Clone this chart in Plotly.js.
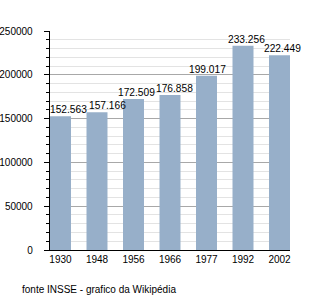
<!DOCTYPE html>
<html><head><meta charset="utf-8">
<script src="https://cdn.plot.ly/plotly-3.0.1.min.js"></script>
<style>body{margin:0;padding:0;background:#fff}#c{width:320px;height:300px}</style>
</head><body><div id="c"></div>
<script>
var years = ['1930','1948','1956','1966','1977','1992','2002'];
var population = [152563, 157166, 172509, 176858, 199017, 233256, 222449];
var valueLabels = ['152.563','157.166','172.509','176.858','199.017','233.256','222.449'];
var yTicks = [0, 50000, 100000, 150000, 200000, 250000];
var yTickLabels = ['0','50000','100000','150000','200000','250000'];
var caption = 'fonte INSSE - grafico da Wikipédia';

var idx = years.map(function(_, i){ return i; });
var font = {family: 'Liberation Sans, Arial, sans-serif', size: 10, color: '#000'};
// horizontal nudges of the value labels, in pixels (layout only)
var labelNudge = [8, 10, 3, 4.5, 1, 3, 2.5];

var labelAnns = idx.map(function(i){
  return {
    x: i, y: population[i], xref: 'x', yref: 'y',
    text: valueLabels[i], showarrow: false,
    xanchor: 'center', yanchor: 'bottom', yshift: 0, xshift: labelNudge[i],
    borderpad: 0,
    font: {family: font.family, size: 10.2, color: '#000'}
  };
});

Plotly.newPlot('c', [{
  type: 'bar',
  x: idx,
  y: population,
  marker: {color: '#97afc9', line: {width: 0}},
  hoverinfo: 'none'
}], {
  width: 320, height: 300,
  margin: {l: 50, r: 30, t: 31, b: 50},
  paper_bgcolor: '#fff', plot_bgcolor: '#fff',
  bargap: 0.425,
  showlegend: false,
  font: font,
  xaxis: {
    range: [-0.2875, 6.2875],
    tickmode: 'array', tickvals: idx, ticktext: years,
    showgrid: false, zeroline: false,
    showline: true, linecolor: '#000', linewidth: 1.3,
    ticks: '', tickfont: font
  },
  yaxis: {
    range: [0, 250000],
    tickmode: 'array', tickvals: yTicks, ticktext: yTickLabels,
    showgrid: true, gridcolor: '#a8a8a8', gridwidth: 1,
    zeroline: false,
    showline: true, linecolor: '#000', linewidth: 1.3,
    ticks: 'outside', ticklen: 5, tickcolor: '#000', tickwidth: 1,
    ticklabelstandoff: 9,
    tickfont: font,
    minor: {dtick: 10000, showgrid: true, gridcolor: '#e3e3e3', gridwidth: 1,
            ticks: 'outside', ticklen: 3, tickcolor: '#000'}
  },
  annotations: labelAnns.concat([{
    text: caption, xref: 'paper', yref: 'paper',
    x: -30/240, y: -39/219, xanchor: 'left', yanchor: 'middle',
    showarrow: false, font: {family: font.family, size: 10, color: '#000'}
  }])
}, {staticPlot: true});
</script></body></html>
